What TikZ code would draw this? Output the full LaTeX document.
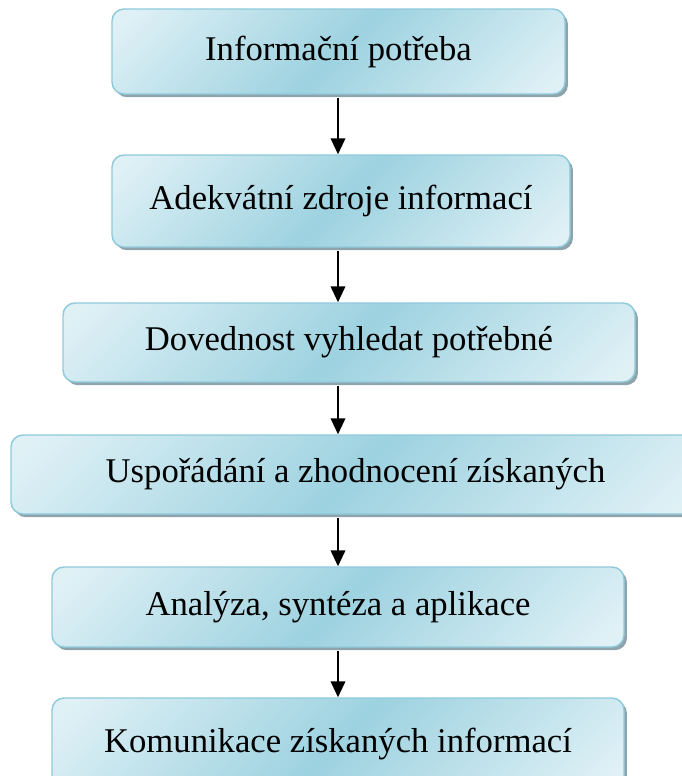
\documentclass[tikz,border=0pt]{standalone}
\usepackage{fontspec}
\setmainfont{Liberation Serif}
\usetikzlibrary{shadows,arrows.meta}
\definecolor{boxlight}{HTML}{E0F1F6}
\definecolor{boxdark}{HTML}{9DD2E0}
\definecolor{boxborder}{HTML}{8FCADB}
\definecolor{boxshadow}{HTML}{8EA3AB}
\pgfdeclareverticalshading{boxshade}{100bp}{color(0bp)=(boxlight); color(17bp)=(boxlight); color(50bp)=(boxdark); color(83bp)=(boxlight); color(100bp)=(boxlight)}
\tikzset{
  flowbox/.style={draw=boxborder, line width=1.1pt, rounded corners=9pt,
    shading=boxshade, shading angle=45,
    drop shadow={shadow xshift=2.2pt, shadow yshift=-2.4pt, fill=boxshadow, opacity=1},
    font=\fontsize{26}{30}\selectfont, inner sep=0pt, anchor=center},
  flowarrow/.style={line width=1.3pt, -{Triangle[length=12pt,width=11pt]}}
}
\begin{document}
\begin{tikzpicture}[x=0.75pt,y=-0.75pt]
\useasboundingbox (0,0) rectangle (682,776);
\clip (0,0) rectangle (682,776);
\node[flowbox, minimum width=339.75pt, minimum height=63.75pt] (b1) at (338.5,51.5) {Informační potřeba};
\node[flowbox, minimum width=343.5pt, minimum height=69pt] (b2) at (341,201) {Adekvátní zdroje informací};
\node[flowbox, minimum width=429pt, minimum height=59.25pt] (b3) at (349,342.5) {Dovednost vyhledat potřebné};
\node[flowbox, minimum width=516.75pt, minimum height=59.25pt] (b4) at (355.5,474.5) {Uspořádání a zhodnocení získaných};
\node[flowbox, minimum width=429pt, minimum height=60pt] (b5) at (338,607) {Analýza, syntéza a aplikace};
\node[flowbox, minimum width=429pt, minimum height=69pt] (b6) at (338,744) {Komunikace získaných informací};
\coordinate (ax) at (338,0);
\draw[flowarrow] ([yshift=-2.5pt]b1.south -| ax) -- (b2.north -| ax);
\draw[flowarrow] ([yshift=-2.5pt]b2.south -| ax) -- (b3.north -| ax);
\draw[flowarrow] ([yshift=-2.5pt]b3.south -| ax) -- (b4.north -| ax);
\draw[flowarrow] ([yshift=-2.5pt]b4.south -| ax) -- (b5.north -| ax);
\draw[flowarrow] ([yshift=-2.5pt]b5.south -| ax) -- (b6.north -| ax);
\end{tikzpicture}
\end{document}
